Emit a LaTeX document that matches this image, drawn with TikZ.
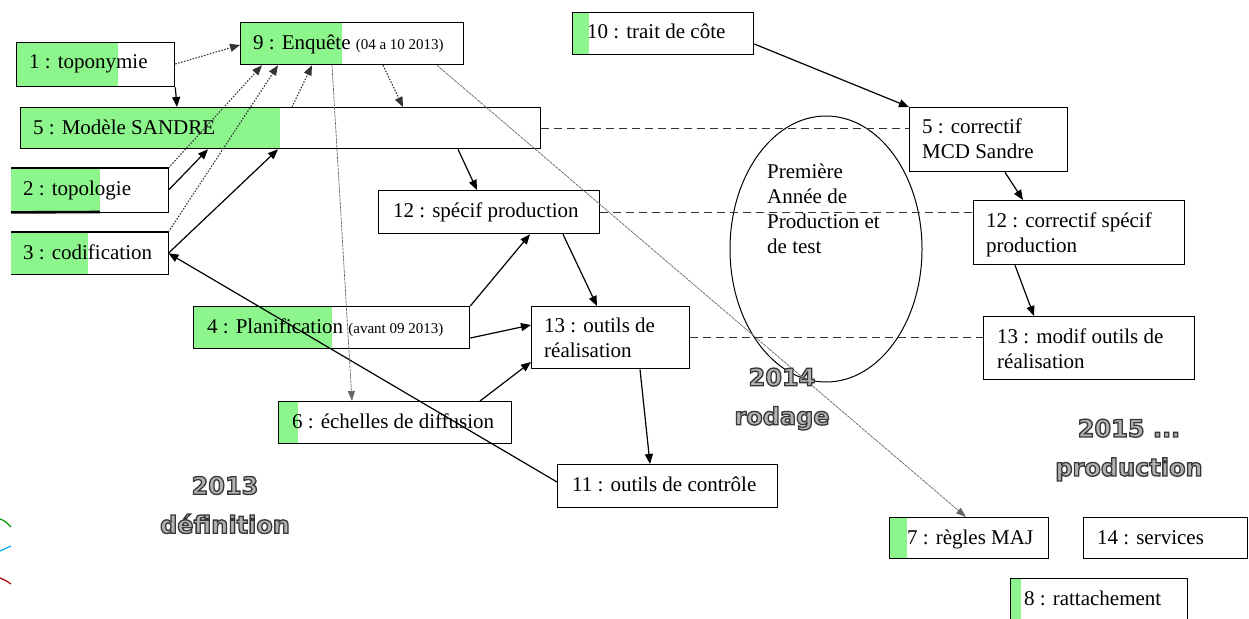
\documentclass[tikz,border=0pt]{standalone}
\usepackage{fontspec}
\setmainfont{Liberation Serif}
\newfontfamily\yearfont{DejaVu Sans Bold}
\usetikzlibrary{arrows.meta,shapes.geometric}
\definecolor{lgreen}{RGB}{140,245,140}
% outlined lettering: fill with the current colour, stroke in dark grey
\newcommand\hollowtext[1]{\special{pdf:code 2 Tr 1.3 w 0.22 G}#1\special{pdf:code 0 Tr}}
\tikzset{
  box/.style={draw, line width=1.3pt, anchor=north west, inner sep=0pt},
  openbox/.style={anchor=north west, inner sep=0pt},
  lbl/.style={anchor=base west, inner sep=0pt, font=\fontsize{21}{25}\selectfont},
  ml/.style={anchor=north west, inner sep=0pt, align=left, font=\fontsize{21}{25}\selectfont},
  arr/.style={-{Triangle[length=10pt,width=8pt]}, line width=1.2pt},
  dotarr/.style={-{Triangle[length=10pt,width=8pt]}, line width=1.1pt, draw=black!80, dash pattern=on 1.5pt off 1.5pt},
  thinarr/.style={-{Triangle[length=10pt,width=7pt]}, line width=0.7pt, draw=black!60, dash pattern=on 3pt off 0.8pt},
  dlink/.style={line width=1.3pt, draw=black!80, dash pattern=on 8pt off 5pt},
  yr/.style={align=center, inner sep=0pt, text=black!30, font=\yearfont\fontsize{24}{39}\selectfont},
  greenpart/.style={fill=lgreen},
}
\newcommand\smalltxt[1]{{\fontsize{15}{18}\selectfont #1}}
\begin{document}
\begin{tikzpicture}[x=1pt,y=-1pt]
\clip (0,0) rectangle (1249,618);
\fill[white] (0,0) rectangle (1249,618);

% green parts of the boxes
\fill[greenpart] (16,42) rectangle (118,86);
\fill[greenpart] (240,22) rectangle (342,64);
\fill[greenpart] (20,107) rectangle (280,148);
\fill[greenpart] (11,168) rectangle (100,212);
\fill[greenpart] (11,232) rectangle (88,274);
\fill[greenpart] (193,306) rectangle (332,348);
\fill[greenpart] (278,401) rectangle (298,443);
\fill[greenpart] (572,12) rectangle (589,54);
\fill[greenpart] (889,517) rectangle (907,558);
\fill[greenpart] (1010,578) rectangle (1021,628);

% boxes
\node[box, minimum width=158pt, minimum height=44pt] (b1) at (16,42) {};
\node[box, minimum width=223pt, minimum height=42pt] (b9) at (240,22) {};
\node[box, minimum width=520pt, minimum height=41pt] (b5) at (20,107) {};
\node[openbox, minimum width=157pt, minimum height=44pt] (b2) at (11,168) {};
\node[openbox, minimum width=157pt, minimum height=42pt] (b3) at (11,232) {};
\draw[line width=1.3pt] (b2.north west) -- (b2.north east) -- (b2.south east) -- (b2.south west);
\draw[line width=2.6pt] (b2.south west) -- (100,212);
\draw[line width=1.3pt] (b3.north west) -- (b3.north east) -- (b3.south east) -- (b3.south west);
\node[box, minimum width=276pt, minimum height=42pt] (b4) at (193,306) {};
\node[box, minimum width=233pt, minimum height=42pt] (b6) at (278,401) {};
\node[box, minimum width=158pt, minimum height=62pt] (b13) at (531,306) {};
\node[box, minimum width=220pt, minimum height=43pt] (b11) at (557,464) {};
\node[box, minimum width=221pt, minimum height=43pt] (b12) at (378,190) {};
\node[box, minimum width=181pt, minimum height=42pt] (b10) at (572,12) {};
\node[box, minimum width=158pt, minimum height=64pt] (b5c) at (909,107) {};
\node[box, minimum width=211pt, minimum height=64pt] (b12c) at (973,200) {};
\node[box, minimum width=211pt, minimum height=63pt] (b13m) at (983,316) {};
\node[box, minimum width=159pt, minimum height=41pt] (b7) at (889,517) {};
\node[box, minimum width=164pt, minimum height=41pt] (b14) at (1083,517) {};
\node[box, minimum width=177pt, minimum height=50pt] (b8) at (1010,578) {};

% box labels
\node[lbl] (t1) at (29,69) {1 : toponymie};
\node[lbl] (t9) at (253,49) {9 : Enquête \smalltxt{(04 a 10 2013)}};
\node[lbl] (t5) at (33,134) {5 : Modèle SANDRE};
\node[lbl] (t2) at (23,195) {2 : topologie};
\node[lbl] (t3) at (23,259) {3 : codification};
\node[lbl] (t4) at (207,333) {4 : Planification \smalltxt{(avant 09 2013)}};
\node[lbl] (t6) at (292,428) {6 : échelles de diffusion};
\node[ml] (t13) at (544,316) {\rule{0pt}{16pt}13 : outils de\\réalisation};
\node[lbl] (t11) at (572,491) {11 : outils de contrôle};
\node[lbl] (t12) at (393,217) {12 : spécif production};
\node[lbl] (t10) at (587,39) {10 : trait de côte};
\node[ml] (t5c) at (922,117) {\rule{0pt}{16pt}5 : correctif\\MCD Sandre};
\node[ml] (t12c) at (986,211) {\rule{0pt}{16pt}12 : correctif spécif\\production};
\node[ml] (t13m) at (997,327) {\rule{0pt}{16pt}13 : modif outils de\\réalisation};
\node[lbl] (t7) at (907,544) {7 : règles MAJ};
\node[lbl] (t14) at (1097,544) {14 : services};
\node[lbl] (t8) at (1024,605) {8 : rattachement};

% first production year
\node[draw, ellipse, line width=1pt, minimum width=192pt, minimum height=266pt, inner sep=0pt] (ell) at (826,249) {};
\node[ml] (tell) at (767,162) {\rule{0pt}{16pt}Première\\Année de\\Production et\\de test};

% period labels
\node[yr] (y13) at (225,505) {\hollowtext{2013}\\\hollowtext{définition}};
\node[yr] (y14) at (782,399) {\hollowtext{2014}\\\hollowtext{rodage}};
\node[yr] (y15) at (1129,450) {\hollowtext{2015 ...}\\\hollowtext{production}};

% dependencies
\draw[arr] (b1.south east) -- (b5.north -| 177,0);
\draw[arr] (b2.east) -- (b5.south -| 208,0);
\draw[arr] (b3.east) -- (b5.south -| 278,0);
\draw[arr] (b11.west |- 0,482) -- (b3.east);
\draw[arr] (b5.south -| 458,0) -- (b12.north -| 477,0);
\draw[arr] (b4.north east) -- (b12.south -| 530,0);
\draw[arr] (b4.east |- 0,338) -- (b13.west |- 0,325);
\draw[arr] (b6.north -| 480,0) -- (b13.west |- 0,362);
\draw[arr] (b12.south -| 563,0) -- (b13.north -| 597,0);
\draw[arr] (b13.south -| 640,0) -- (b11.north -| 650,0);
\draw[arr] (b10.east |- 0,44) -- (b5c.north west);
\draw[arr] (b5c.south -| 1005,0) -- (b12c.north -| 1023,0);
\draw[arr] (b12c.south -| 1015,0) -- (b13m.north -| 1034,0);

% survey links
\draw[dotarr] (b1.east |- 0,64) -- (b9.west |- 0,45);
\draw[dotarr] (b9.south -| 383,0) -- (b5.north -| 403,0);
\draw[dotarr] (b2.north east) -- (b9.south -| 262,0);
\draw[dotarr] (b3.north east) -- (b9.south -| 278,0);
\draw[dotarr] (b5.north -| 292,0) -- (b9.south -| 312,0);
\draw[thinarr] (b9.south -| 332,0) -- (b6.north -| 352,0);
\draw[thinarr] (b9.south -| 437,0) -- (b7.north -| 966,0);

% corrections in the following year
\draw[dlink] (b5.east) -- (b5.east -| b5c.west);
\draw[dlink] (b12.east) -- (b12.east -| b12c.west);
\draw[dlink] (b13.east) -- (b13.east -| b13m.west);

% curve ends at the left margin
\draw[line width=1.2pt, draw=green!60!black] (0,519) .. controls (5,521) .. (11,527);
\draw[line width=1.2pt, draw=cyan] (0,551) .. controls (5,548) .. (11,546);
\draw[line width=1.2pt, draw=red!70!black] (0,578) .. controls (5,580) .. (11,584);
\end{tikzpicture}
\end{document}
